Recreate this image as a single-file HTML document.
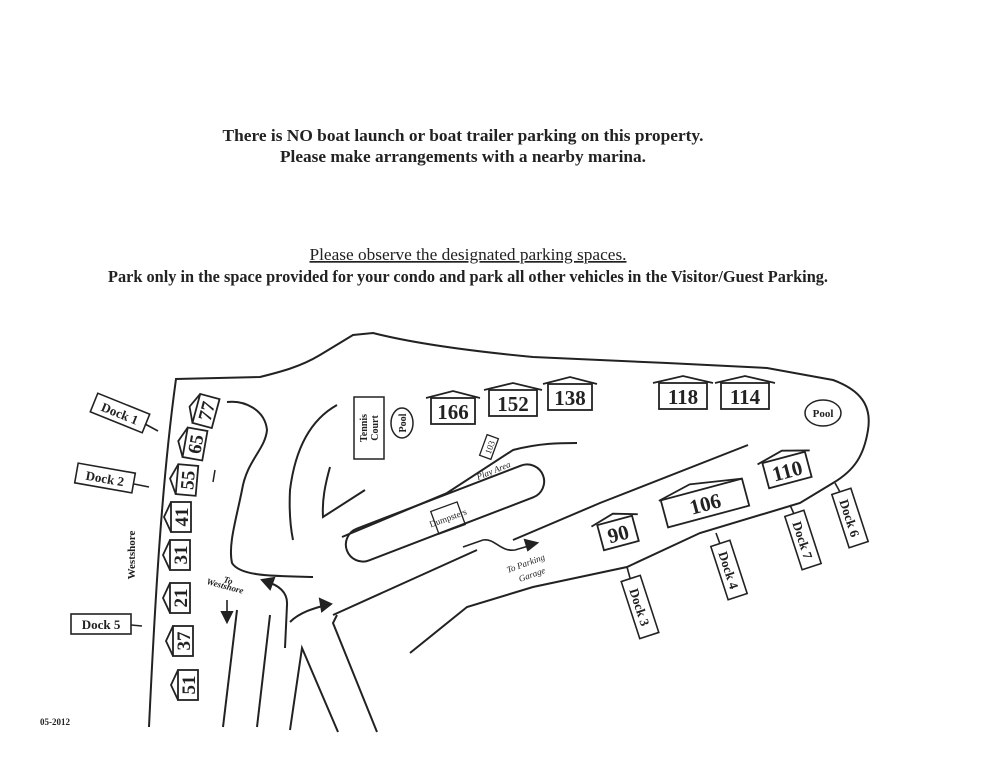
<!DOCTYPE html>
<html><head><meta charset="utf-8"><style>
body{margin:0;background:#fff;width:994px;height:768px;overflow:hidden}
svg{position:absolute;left:0;top:0}
text{font-family:"Liberation Serif",serif;fill:#222}
</style></head><body>
<svg width="994" height="768" viewBox="0 0 994 768" fill="none" stroke="#222" stroke-width="2">
<text x="463" y="141" font-size="17" font-weight="bold" text-anchor="middle" stroke="none" textLength="481" lengthAdjust="spacingAndGlyphs">There is NO boat launch or boat trailer parking on this property.</text>
<text x="463" y="162" font-size="17" font-weight="bold" text-anchor="middle" stroke="none" textLength="366" lengthAdjust="spacingAndGlyphs">Please make arrangements with a nearby marina.</text>
<text x="468" y="260" font-size="17" text-anchor="middle" stroke="none" text-decoration="underline" textLength="317" lengthAdjust="spacingAndGlyphs">Please observe the designated parking spaces.</text>
<text x="468" y="282" font-size="17" font-weight="bold" text-anchor="middle" stroke="none" textLength="720" lengthAdjust="spacingAndGlyphs">Park only in the space provided for your condo and park all other vehicles in the Visitor/Guest Parking.</text>
<text x="40" y="725" font-size="9" font-weight="bold" stroke="none">05-2012</text>

<!-- outer boundary -->
<path d="M149,727 C155,600 162,480 176,379 L260,377 C280,372 300,367 320,355 L353,335 L373,333 C420,345 480,352 533,357 L667,363 L767,368 L833,380 C860,390 872,405 868,430 C864,455 855,470 833,483 L800,503 L700,533 L627,567 L533,587 L467,607 L410,653"/>
<!-- inner roads -->
<path d="M227,402 C245,400 265,410 267,430 C265,450 247,460 242,490 C236,520 228,545 232,563 C240,576 270,576 313,577"/>
<path d="M337,405 C310,420 295,450 290,490 C289,510 290,525 293,540"/>
<path d="M330,467 C325,485 322,500 323,517 L365,490"/>
<path d="M342,537 L447,493 L513,450 C540,443 560,443 577,443"/>
<path d="M333,615 L477,550"/>
<path d="M513,540 L600,503 L748,445"/>
<path d="M223,727 L237,610"/><path d="M257,727 L270,615"/>
<path d="M290,730 L302,648 L338,732"/>
<path d="M377,732 L333,623 L337,615"/>
<path d="M215,470 L213,482" stroke-width="1.5"/>
<rect x="340" y="496" width="210" height="34" rx="17" transform="rotate(-21 445 513)"/>
<!-- arrows -->
<path d="M463,547 L483,540 C495,538 500,552 515,550 L532,545" stroke-width="1.6"/>
<path d="M537,543 L525,540 L528,550 Z" fill="#222"/>
<path d="M285,648 L287,605 C288,592 278,585 267,582" stroke-width="2"/>
<path d="M262,580 L274,578 L270,589 Z" fill="#222"/>
<path d="M290,622 C300,612 315,608 326,605" stroke-width="2"/>
<path d="M331,604 L320,599 L322,611 Z" fill="#222"/>
<path d="M227,600 L227,620" stroke-width="1.6"/><path d="M222,612 L227,622 L232,612 Z" fill="#222"/>
<text x="0" y="0" font-size="9" font-style="italic" font-weight="bold" stroke="none" transform="translate(223,582) rotate(15)">To</text>
<text x="0" y="0" font-size="9" font-style="italic" font-weight="bold" stroke="none" transform="translate(206,584) rotate(15)">Westshore</text>
<text x="0" y="0" font-size="9" font-style="italic" stroke="none" transform="translate(508,573) rotate(-20)">To Parking</text>
<text x="0" y="0" font-size="9" font-style="italic" stroke="none" transform="translate(520,582) rotate(-20)">Garage</text>
<text x="0" y="0" font-size="9" font-style="italic" stroke="none" transform="translate(478,480) rotate(-22)">Play Area</text>
<!-- dumpsters -->
<g transform="translate(448,518) rotate(-20)"><rect x="-14" y="-12" width="28" height="24" stroke-width="1.3"/><text x="0" y="3" font-size="9" text-anchor="middle" stroke="none">Dumpsters</text></g>
<g transform="translate(489,447) rotate(-70)"><rect x="-11" y="-6" width="22" height="12" stroke-width="1.3"/><text x="0" y="4" font-size="9" text-anchor="middle" stroke="none">103</text></g>
<!-- tennis / pool -->
<g transform="translate(369,428)"><rect x="-15" y="-31" width="30" height="62" stroke-width="1.5"/><text transform="rotate(-90)" x="0" y="-2" font-size="10" font-weight="bold" text-anchor="middle" stroke="none">Tennis</text><text transform="rotate(-90)" x="0" y="9" font-size="10" font-weight="bold" text-anchor="middle" stroke="none">Court</text></g>
<g transform="translate(402,423) rotate(-90)"><ellipse rx="15" ry="11" stroke-width="1.5"/><text x="0" y="4" font-size="10" font-weight="bold" text-anchor="middle" stroke="none">Pool</text></g>
<g transform="translate(823,413)"><ellipse rx="18" ry="13" stroke-width="1.5"/><text x="0" y="4" font-size="11" font-weight="bold" text-anchor="middle" stroke="none">Pool</text></g>
<!-- top houses -->
<g stroke-width="1.8" font-weight="bold">
<g transform="translate(453,411)"><rect x="-22" y="-13" width="44" height="26"/><path d="M-27,-13 L0,-20 L27,-13"/><text x="0" y="8" text-anchor="middle" stroke="none" font-size="21" font-weight="bold">166</text></g>
<g transform="translate(513,403)"><rect x="-24" y="-13" width="48" height="26"/><path d="M-29,-13 L0,-20 L29,-13"/><text x="0" y="8" text-anchor="middle" stroke="none" font-size="21" font-weight="bold">152</text></g>
<g transform="translate(570,397)"><rect x="-22" y="-13" width="44" height="26"/><path d="M-27,-13 L0,-20 L27,-13"/><text x="0" y="8" text-anchor="middle" stroke="none" font-size="21" font-weight="bold">138</text></g>
<g transform="translate(683,396)"><rect x="-24" y="-13" width="48" height="26"/><path d="M-30,-13 L0,-20 L30,-13"/><text x="0" y="8" text-anchor="middle" stroke="none" font-size="21" font-weight="bold">118</text></g>
<g transform="translate(745,396)"><rect x="-24" y="-13" width="48" height="26"/><path d="M-30,-13 L0,-20 L30,-13"/><text x="0" y="8" text-anchor="middle" stroke="none" font-size="21" font-weight="bold">114</text></g>
<g transform="translate(787,470) rotate(-15)"><rect x="-22" y="-13" width="44" height="26"/><path d="M-27,-13 L0,-20 L27,-13"/><text x="0" y="8" text-anchor="middle" stroke="none" font-size="21" font-weight="bold">110</text></g>
<g transform="translate(705,503) rotate(-15)"><rect x="-42" y="-14" width="84" height="28"/><path d="M-44,-14 L-10,-22 L42,-14"/><text x="0" y="8" text-anchor="middle" stroke="none" font-size="21" font-weight="bold">106</text></g>
<g transform="translate(618,533) rotate(-15)"><rect x="-18" y="-13" width="36" height="26"/><path d="M-24,-13 L0,-20 L24,-13"/><text x="0" y="8" text-anchor="middle" stroke="none" font-size="21" font-weight="bold">90</text></g>
</g>
<!-- left houses (rotated) -->
<g stroke-width="1.8">
<g transform="translate(206,411) rotate(-75)"><rect x="-15" y="-10" width="30" height="20"/><path d="M-15,-10 L0,-17 L15,-10"/><text x="0" y="7" font-size="19" font-weight="bold" text-anchor="middle" stroke="none">77</text></g>
<g transform="translate(195,444) rotate(-80)"><rect x="-15" y="-10" width="30" height="20"/><path d="M-15,-10 L0,-17 L15,-10"/><text x="0" y="7" font-size="19" font-weight="bold" text-anchor="middle" stroke="none">65</text></g>
<g transform="translate(187,480) rotate(-85)"><rect x="-15" y="-10" width="30" height="20"/><path d="M-15,-10 L0,-17 L15,-10"/><text x="0" y="7" font-size="19" font-weight="bold" text-anchor="middle" stroke="none">55</text></g>
<g transform="translate(181,517) rotate(-90)"><rect x="-15" y="-10" width="30" height="20"/><path d="M-15,-10 L0,-17 L15,-10"/><text x="0" y="7" font-size="19" font-weight="bold" text-anchor="middle" stroke="none">41</text></g>
<g transform="translate(180,555) rotate(-90)"><rect x="-15" y="-10" width="30" height="20"/><path d="M-15,-10 L0,-17 L15,-10"/><text x="0" y="7" font-size="19" font-weight="bold" text-anchor="middle" stroke="none">31</text></g>
<g transform="translate(180,598) rotate(-90)"><rect x="-15" y="-10" width="30" height="20"/><path d="M-15,-10 L0,-17 L15,-10"/><text x="0" y="7" font-size="19" font-weight="bold" text-anchor="middle" stroke="none">21</text></g>
<g transform="translate(183,641) rotate(-90)"><rect x="-15" y="-10" width="30" height="20"/><path d="M-15,-10 L0,-17 L15,-10"/><text x="0" y="7" font-size="19" font-weight="bold" text-anchor="middle" stroke="none">37</text></g>
<g transform="translate(188,685) rotate(-90)"><rect x="-15" y="-10" width="30" height="20"/><path d="M-15,-10 L0,-17 L15,-10"/><text x="0" y="7" font-size="19" font-weight="bold" text-anchor="middle" stroke="none">51</text></g>
</g>
<text transform="translate(135,555) rotate(-90)" font-size="11" font-weight="bold" text-anchor="middle" stroke="none">Westshore</text>
<!-- docks -->
<g stroke-width="1.6">
<path d="M145,424 L158,431"/><g transform="translate(120,413) rotate(22)"><rect x="-28" y="-10" width="56" height="20"/><text x="0" y="5" font-size="13" font-weight="bold" text-anchor="middle" stroke="none">Dock 1</text></g>
<path d="M134,484 L149,487"/><g transform="translate(105,478) rotate(10)"><rect x="-29" y="-10" width="58" height="20"/><text x="0" y="5" font-size="13" font-weight="bold" text-anchor="middle" stroke="none">Dock 2</text></g>
<path d="M131,625 L142,626"/><g transform="translate(101,624)"><rect x="-30" y="-10" width="60" height="20"/><text x="0" y="5" font-size="13" font-weight="bold" text-anchor="middle" stroke="none">Dock 5</text></g>
<path d="M627,567 L630,578"/><g transform="translate(640,607) rotate(72)"><rect x="-30" y="-10" width="60" height="20"/><text x="0" y="5" font-size="13" font-weight="bold" text-anchor="middle" stroke="none">Dock 3</text></g>
<path d="M716,533 L720,544"/><g transform="translate(729,570) rotate(72)"><rect x="-28" y="-10" width="56" height="20"/><text x="0" y="5" font-size="13" font-weight="bold" text-anchor="middle" stroke="none">Dock 4</text></g>
<path d="M790,505 L794,514"/><g transform="translate(803,540) rotate(72)"><rect x="-28" y="-10" width="56" height="20"/><text x="0" y="5" font-size="13" font-weight="bold" text-anchor="middle" stroke="none">Dock 7</text></g>
<path d="M835,483 L840,492"/><g transform="translate(850,518) rotate(72)"><rect x="-28" y="-10" width="56" height="20"/><text x="0" y="5" font-size="13" font-weight="bold" text-anchor="middle" stroke="none">Dock 6</text></g>
</g>
</svg>
</body></html>
